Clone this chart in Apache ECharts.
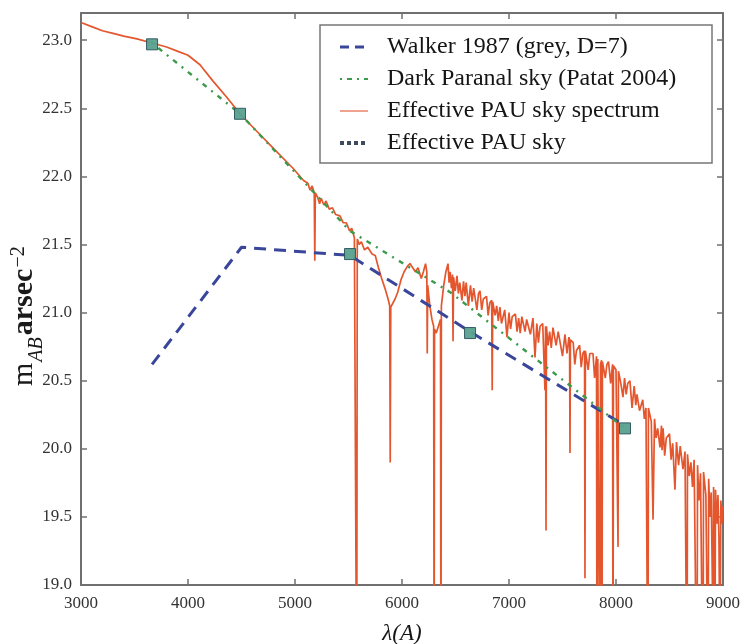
<!DOCTYPE html>
<html>
<head>
<meta charset="utf-8">
<script src="https://cdn.jsdelivr.net/npm/echarts@6/dist/echarts.min.js"></script>
<style>
  html, body { margin: 0; padding: 0; background: #fff; }
  #chart { width: 740px; height: 644px; }
</style>
</head>
<body>
<div id="chart"></div>
<script>
// Axis ranges and ticks
const xTicks = [3000, 4000, 5000, 6000, 7000, 8000, 9000];
const yTicks = [19.0, 19.5, 20.0, 20.5, 21.0, 21.5, 22.0, 22.5, 23.0];
const yTop = 23.2;

// Series names
const seriesNames = [
  'Walker 1987 (grey, D=7)',
  'Dark Paranal sky (Patat 2004)',
  'Effective PAU sky spectrum',
  'Effective PAU sky'
];

// Broad-band sky brightness, [wavelength (Å), m_AB arcsec^-2]
const walker1987 = [[3664, 20.62], [4500, 21.48], [5514, 21.42], [6636, 20.86], [8084, 20.17]];
const paranalDark = [[3664, 22.98], [4486, 22.46], [5514, 21.60], [6450, 21.15], [8084, 20.15]];
const pauSkyBands = [[3664, 22.97], [4486, 22.46], [5514, 21.43], [6636, 20.85], [8084, 20.15]];

// Effective sky spectrum, [wavelength (Å), m_AB arcsec^-2]; emission lines reach below the axis floor
const skySpectrum = [
  [3000,23.13],[3100,23.10],[3200,23.07],[3300,23.05],[3400,23.03],[3523,23.01],[3664,22.98],
  [3800,22.95],[3900,22.92],[4000,22.89],[4112,22.82],[4234,22.70],[4364,22.58],[4486,22.46],
  [4645,22.33],[4794,22.21],[4981,22.06],[5080,21.97],[5120,21.95],[5140,21.90],[5160,21.93],
  [5180,21.88],[5185,21.38],[5190,21.88],[5210,21.85],[5230,21.80],[5245,21.84],[5270,21.79],
  [5290,21.82],[5320,21.76],[5350,21.77],[5380,21.72],[5420,21.71],[5450,21.66],[5480,21.66],
  [5510,21.60],[5530,21.62],[5555,21.55],[5572,21.55],[5577,18.0],[5582,21.54],[5600,21.50],
  [5620,21.52],[5650,21.46],[5680,21.48],[5720,21.43],[5750,21.42],[5780,21.33],[5810,21.25],
  [5840,21.18],[5870,21.10],[5885,21.05],[5890,19.90],[5895,21.04],[5910,21.03],[5935,21.10],
  [5960,21.15],[5990,21.24],[6020,21.30],[6050,21.34],[6075,21.36],[6100,21.33],[6125,21.30],
  [6150,21.33],[6180,21.25],[6200,21.30],[6220,21.36],[6232,21.30],[6236,20.70],[6240,21.20],
  [6260,21.05],[6280,20.95],[6296,20.90],[6300,18.0],[6304,20.88],[6320,20.85],[6340,20.90],
  [6360,20.95],[6364,18.0],[6368,21.05],[6390,21.20],[6410,21.30],[6430,21.36],[6440,21.22],
  [6450,21.30],[6462,21.18],[6472,21.28],[6477,20.79],[6482,21.26],[6498,21.16],[6514,21.27],
  [6527,21.14],[6540,21.22],[6560,21.09],[6575,21.23],[6588,21.12],[6600,21.22],[6620,21.05],
  [6640,21.20],[6655,21.08],[6670,21.18],[6700,21.02],[6715,21.14],[6729,21.16],[6745,21.02],
  [6760,21.10],[6790,21.12],[6805,20.98],[6820,21.07],[6838,21.09],[6843,20.43],[6848,21.08],
  [6870,20.98],[6885,21.05],[6900,20.94],[6915,21.04],[6930,20.92],[6960,21.02],[6981,20.82],
  [7000,21.00],[7015,20.88],[7030,20.97],[7060,20.99],[7075,20.86],[7090,20.96],[7105,20.85],
  [7120,20.97],[7150,20.86],[7165,20.95],[7180,20.96],[7200,20.84],[7224,20.96],[7243,20.67],
  [7260,20.92],[7275,20.78],[7290,20.90],[7315,20.92],[7336,20.43],[7342,20.90],[7346,19.40],
  [7350,20.90],[7365,20.76],[7380,20.86],[7395,20.74],[7411,20.89],[7440,20.76],[7460,20.86],
  [7477,20.87],[7500,20.68],[7523,20.84],[7542,20.70],[7560,20.82],[7566,20.80],[7570,19.97],
  [7574,20.80],[7600,20.78],[7615,20.62],[7630,20.72],[7660,20.76],[7675,20.60],[7690,20.70],
  [7706,20.72],[7710,19.05],[7714,20.72],[7740,20.58],[7755,20.70],[7770,20.71],[7785,20.70],
  [7800,20.52],[7818,20.68],[7822,18.0],[7830,20.66],[7846,20.66],[7850,18.0],[7855,20.62],
  [7865,20.65],[7869,18.0],[7873,20.64],[7900,20.52],[7915,20.62],[7930,20.64],[7950,20.48],
  [7968,20.62],[7972,18.0],[7976,20.61],[8000,20.58],[8015,20.58],[8019,19.28],[8023,20.57],
  [8045,20.48],[8065,20.38],[8080,20.52],[8095,20.40],[8110,20.48],[8130,20.50],[8150,20.30],
  [8170,20.46],[8185,20.32],[8196,20.40],[8220,20.28],[8250,20.36],[8265,20.22],[8280,20.30],
  [8295,20.31],[8299,18.0],[8303,20.30],[8330,20.20],[8346,19.48],[8360,20.22],[8375,20.08],
  [8390,20.15],[8411,20.01],[8425,20.17],[8430,19.99],[8440,20.15],[8455,19.95],[8470,20.08],
  [8500,20.11],[8515,19.92],[8530,20.04],[8551,19.70],[8565,20.05],[8585,19.88],[8600,20.02],
  [8626,19.85],[8645,19.98],[8660,19.97],[8664,18.0],[8668,19.96],[8685,19.80],[8700,19.90],
  [8715,19.72],[8730,19.92],[8757,18.0],[8762,19.88],[8775,19.62],[8790,19.82],[8813,18.0],
  [8818,19.83],[8840,19.66],[8860,18.2],[8866,19.78],[8880,19.50],[8890,19.68],[8907,18.6],
  [8912,19.72],[8925,18.5],[8930,19.70],[8945,19.45],[8953,19.66],[8962,19.35],[8972,18.4],
  [8980,19.62],[8990,19.45],[9000,19.58]
];

const serif = "'Liberation Serif', 'Times New Roman', serif";
const axisGrey = '#707070';
const colWalker = '#39469a';
const colParanal = '#3c9a4c';
const colSpec = '#e4572e';
const colSquare = '#58a08e';
const colPauIcon = '#3f4b5b';

const chart = echarts.init(document.getElementById('chart'), null, { renderer: 'canvas' });

const xBase = {
  type: 'value', min: xTicks[0], max: xTicks[xTicks.length - 1], interval: 1000,
  splitLine: { show: false },
  axisLine: { lineStyle: { color: axisGrey, width: 2 } },
  axisTick: { inside: true, length: 6, lineStyle: { color: axisGrey, width: 1.5 } }
};
const yBase = {
  type: 'value', min: yTicks[0], max: yTop, interval: 0.5,
  splitLine: { show: false },
  axisLine: { lineStyle: { color: axisGrey, width: 2 } },
  axisTick: { inside: true, length: 6, lineStyle: { color: axisGrey, width: 1.5 } }
};

// Legend drawn as a boxed list
const legendX = 320, legendY = 25, legendW = 392, legendH = 138;
const rowY = [47, 79, 111, 143];
const iconX1 = 340, iconX2 = 368, textX = 387;
const legendIcons = [
  { stroke: colWalker, lineWidth: 3, lineDash: [9, 6] },
  { stroke: colParanal, lineWidth: 2.2, lineDash: [2, 5, 5, 5] },
  { stroke: '#e8846a', lineWidth: 1.5, lineDash: null },
  { stroke: colPauIcon, lineWidth: 4, lineDash: [4, 3] }
];
const legendChildren = [{
  type: 'rect',
  shape: { x: legendX, y: legendY, width: legendW, height: legendH },
  style: { fill: '#fff', stroke: '#777', lineWidth: 1.5 }
}];
seriesNames.forEach((name, i) => {
  legendChildren.push({
    type: 'line',
    shape: { x1: iconX1, y1: rowY[i], x2: iconX2, y2: rowY[i] },
    style: legendIcons[i]
  });
  legendChildren.push({
    type: 'text',
    style: {
      text: name, x: textX, y: rowY[i], fill: '#151515',
      font: '24px ' + serif, align: 'left', verticalAlign: 'middle'
    }
  });
});

// Vertical axis title: m_AB arsec^-2, laid out piece by piece reading upward
const measureCtx = document.createElement('canvas').getContext('2d');
function textWidth(font, s) { measureCtx.font = font; return measureCtx.measureText(s).width; }
const yTitleParts = [
  { text: 'm', font: '30px ' + serif, baseX: 34, gap: 0 },
  { text: 'AB', font: 'italic 20px ' + serif, baseX: 43, gap: 1 },
  { text: 'arsec', font: 'bold 30px ' + serif, baseX: 34, gap: 2 },
  { text: '−2', font: '20px ' + serif, baseX: 25, gap: 1 }
];
const yTitleChildren = [];
let cursorY = 386;
yTitleParts.forEach(p => {
  const size = parseFloat(p.font.match(/(\d+)px/)[1]);
  cursorY -= p.gap;
  yTitleChildren.push({
    type: 'text',
    x: p.baseX - 0.32 * size, y: cursorY, rotation: Math.PI / 2,
    style: { text: p.text, font: p.font, fill: '#1a1a1a', align: 'left', verticalAlign: 'middle' }
  });
  cursorY -= textWidth(p.font, p.text);
});

chart.setOption({
  animation: false,
  backgroundColor: '#fff',
  grid: { left: 81, right: 17, top: 13, bottom: 59, show: false, containLabel: false, outerBoundsMode: 'none' },
  xAxis: [
    Object.assign({}, xBase, {
      position: 'bottom',
      name: 'λ(A)', nameLocation: 'middle', nameGap: 37,
      nameTextStyle: { fontFamily: serif, fontSize: 23, fontStyle: 'italic', color: '#151515' },
      axisLabel: { fontFamily: serif, fontSize: 17, color: '#333', margin: 10, formatter: v => String(v) }
    }),
    Object.assign({}, xBase, { position: 'top', axisLabel: { show: false } })
  ],
  yAxis: [
    Object.assign({}, yBase, {
      position: 'left',
      axisLabel: {
        fontFamily: serif, fontSize: 17, color: '#333', margin: 9,
        showMaxLabel: false,
        formatter: v => v.toFixed(1)
      }
    }),
    Object.assign({}, yBase, { position: 'right', axisLabel: { show: false } })
  ],
  series: [
    {
      name: seriesNames[2], type: 'line', data: skySpectrum,
      symbol: 'none', clip: true, z: 2,
      lineStyle: { color: colSpec, width: 1.7 }
    },
    {
      name: seriesNames[0], type: 'line', data: walker1987,
      symbol: 'none', z: 3,
      lineStyle: { color: colWalker, width: 3, type: [12, 8] }
    },
    {
      name: seriesNames[1], type: 'line', data: paranalDark,
      symbol: 'none', z: 3,
      lineStyle: { color: colParanal, width: 2.4, type: [2, 6, 5, 6] }
    },
    {
      name: seriesNames[3], type: 'scatter', data: pauSkyBands,
      symbol: 'rect', symbolSize: 11, z: 4,
      itemStyle: { color: colSquare, borderColor: '#2e5560', borderWidth: 1, opacity: 0.95 }
    }
  ],
  graphic: [
    { type: 'group', z: 100, children: legendChildren },
    { type: 'group', z: 100, children: yTitleChildren }
  ]
});
</script>
</body>
</html>
